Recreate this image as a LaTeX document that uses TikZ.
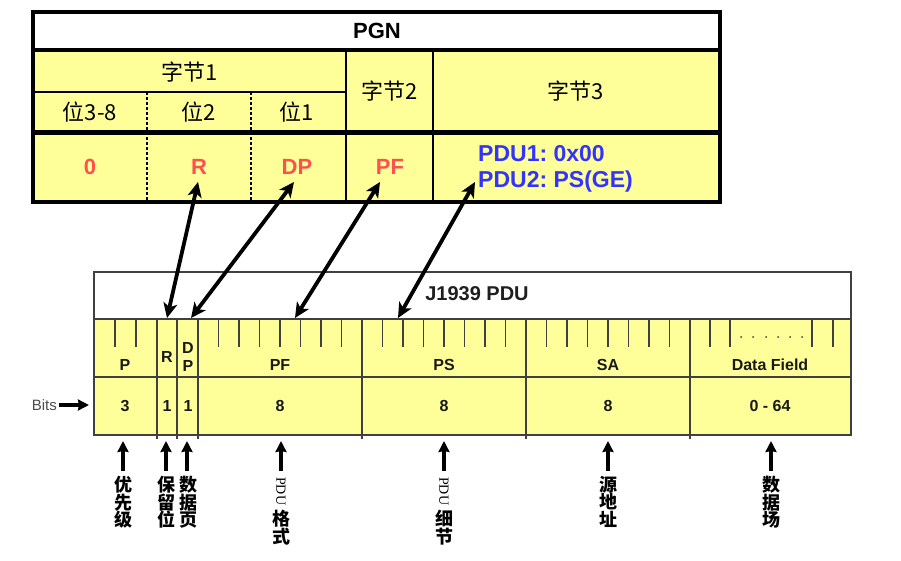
\documentclass[tikz,border=0pt]{standalone}
\usepackage{fontspec}
\usepackage{graphicx}
\setmainfont{Liberation Sans}
\newfontfamily\cjk{Noto Sans CJK SC}
\newfontfamily\tms{Liberation Serif}
\usetikzlibrary{arrows.meta}
\definecolor{yel}{HTML}{FFFF99}
\definecolor{redv}{HTML}{FF5050}
\definecolor{bluev}{HTML}{3333FF}
\definecolor{gline}{HTML}{404040}
\frenchspacing
\tikzset{
  big/.style={font=\bfseries\fontsize{22}{24}\selectfont, inner sep=0pt},
  cjkl/.style={font=\cjk\fontsize{22}{24}\selectfont, inner sep=0pt},
  redtxt/.style={big, text=redv},
  bluetxt/.style={font=\bfseries\fontsize{23}{24}\selectfont, inner sep=0pt, text=bluev, anchor=west},
  lab/.style={font=\bfseries\fontsize{16}{17}\selectfont, inner sep=0pt, text=black!90},
  tablegrid/.style={draw=gline, line width=1.4pt},
  tick/.style={draw=gline, line width=1.1pt},
  dbl/.style={line width=3.8pt, {Stealth[length=15pt,width=14pt,inset=4pt]}-{Stealth[length=15pt,width=14pt,inset=4pt]}},
  uparrow/.style={line width=3.4pt, -{Stealth[length=11pt,width=11pt,inset=1pt]}},
  vtext/.style={font=\cjk\bfseries\fontsize{18}{17.5}\selectfont, align=center, inner sep=0pt, anchor=north},
  vpdu/.style={rotate=-90, anchor=west, inner sep=0pt, font=\tms\fontsize{14}{14}\selectfont},
}
\begin{document}
\begin{tikzpicture}[x=1pt,y=-1pt]
\useasboundingbox (0,0) rectangle (901,560);
% ---------- top PGN table ----------
\fill[white] (33,12) rectangle (720,50);
\fill[yel] (33,50) rectangle (720,202);
\draw[line width=2.2pt] (33,92) -- (346,92);
\draw[line width=2.2pt] (346,50) -- (346,202);
\draw[line width=2.2pt] (433,50) -- (433,202);
\draw[line width=1.1pt, dash pattern=on 3pt off 2pt] (147,92) -- (147,202);
\draw[line width=1.1pt, dash pattern=on 3pt off 2pt] (251,92) -- (251,202);
\draw[line width=4pt] (33,50) -- (720,50);
\draw[line width=5pt] (33,132) -- (720,132);
\draw[line width=3.5pt] (33,12) rectangle (720,202);
\node[big] (pgn) at (377,31) {PGN};
\node[cjkl] (b1) at (190,72) {字节1};
\node[cjkl] (b2) at (390,91) {字节2};
\node[cjkl] (b3) at (576,91) {字节3};
\node[cjkl] (w38) at (90,112) {位3-8};
\node[cjkl] (w2) at (199,112) {位2};
\node[cjkl] (w1) at (297,112) {位1};
\node[redtxt] (v0) at (90,167) {0};
\node[redtxt] (vR) at (199,167) {R};
\node[redtxt] (vDP) at (297,167) {DP};
\node[redtxt] (vPF) at (390,167) {PF};
\node[bluetxt] (pdu1) at (478,154) {PDU1: 0x00};
\node[bluetxt] (pdu2) at (478,182) {PDU2: PS(GE)};
% ---------- bottom J1939 PDU table ----------
\fill[white] (94,272) rectangle (851,319);
\fill[yel] (94,319) rectangle (851,435);
\draw[tablegrid] (94,272) rectangle (851,435);
\draw[tablegrid] (94,319) -- (851,319);
\draw[tablegrid] (94,377) -- (851,377);
\foreach \x in {157,177,198,362,526,690} \draw[tablegrid] (\x,319) -- (\x,439);
\foreach \x in {115,136} \draw[tick] (\x,319) -- (\x,347);
\foreach \s in {198,362,526} \foreach \k in {1,...,7} \draw[tick] ({\s+20.5*\k},319) -- ({\s+20.5*\k},347);
\foreach \x in {710,730,812,833} \draw[tick] (\x,319) -- (\x,347);
\foreach \x in {741,753,766,778,790,802} \fill[gline] (\x,337) circle (1pt);
\node[font=\bfseries\fontsize{20}{22}\selectfont, text=black!88, inner sep=0pt] (j1939) at (477,294) {J1939 PDU};
\node[lab] (lP) at (125,365) {P};
\node[lab] (lR) at (167,357) {R};
\node[lab] (lD) at (188,348) {D};
\node[lab] (lP2) at (188,366) {P};
\node[lab] (lPF) at (280,365) {PF};
\node[lab] (lPS) at (444,365) {PS};
\node[lab] (lSA) at (608,365) {SA};
\node[lab] (lDF) at (770,365) {Data Field};
\node[lab] (n3) at (125,406) {3};
\node[lab] (n1a) at (167,406) {1};
\node[lab] (n1b) at (188,406) {1};
\node[lab] (n8a) at (280,406) {8};
\node[lab] (n8b) at (444,406) {8};
\node[lab] (n8c) at (608,406) {8};
\node[lab] (n064) at (770,406) {0 - 64};
% Bits
\node[font=\fontsize{15}{15}\selectfont, text=black!70, inner sep=0pt, anchor=east] (bits) at (57,405) {Bits};
\coordinate (bitsend) at (89,405);
\draw[line width=3.4pt, -{Stealth[length=11pt,width=11pt,inset=1pt]}] (bits.east) ++(2,0) -- (bitsend);
% ---------- double arrows ----------
\coordinate (tR) at (198,182);  \coordinate (bR) at (167,318);
\coordinate (tDP) at (294,182); \coordinate (bDP) at (191,318);
\coordinate (tPF) at (380,182); \coordinate (bPF) at (295,318);
\coordinate (tPS) at (475,182); \coordinate (bPS) at (398,318);
\draw[dbl] (tR) -- (bR);
\draw[dbl] (tDP) -- (bDP);
\draw[dbl] (tPF) -- (bPF);
\draw[dbl] (tPS) -- (bPS);
% ---------- bottom arrows and labels ----------
\foreach \x/\nm in {123/a1,166/a2,187/a3,281/a4,444/a5,608/a6,771/a7} {
  \coordinate (\nm s) at (\x,471);
  \coordinate (\nm e) at (\x,441);
  \draw[uparrow] (\nm s) -- (\nm e);
}
\node[vtext] (t1) at (123,476) {优\\先\\级};
\node[vtext] (t2) at (166,476) {保\\留\\位};
\node[vtext] (t3) at (188,476) {数\\据\\页};
\node[vpdu] (pduA) at (281,477) {PDU};
\node[vtext] (t4) at (281,510) {格\\式};
\node[vpdu] (pduB) at (444,477) {PDU};
\node[vtext] (t5) at (444,510) {细\\节};
\node[vtext] (t6) at (608,476) {源\\地\\址};
\node[vtext] (t7) at (771,476) {数\\据\\场};
\end{tikzpicture}
\end{document}
